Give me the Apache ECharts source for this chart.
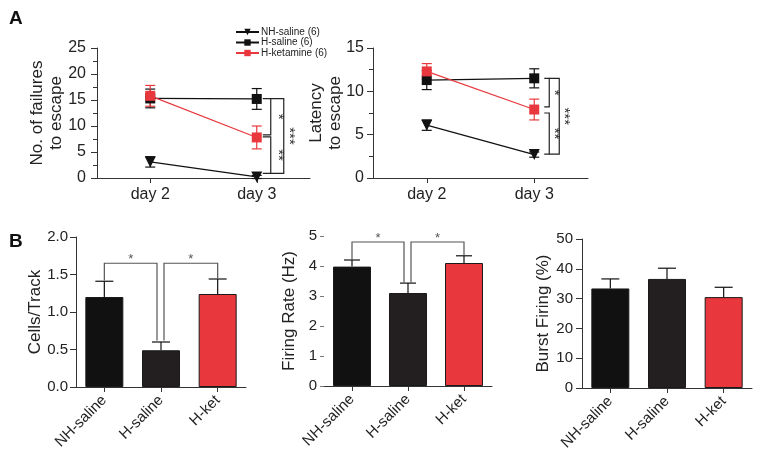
<!DOCTYPE html>
<html><head><meta charset="utf-8">
<script src="https://cdn.jsdelivr.net/npm/echarts@6/dist/echarts.min.js"></script>
<style>html,body{margin:0;padding:0;background:#fff}#c{width:767px;height:453px}</style>
</head><body><div id="c"></div>
<script>
// ---- data ----
const days = ['day 2', 'day 3'];
const seriesNames = ['NH-saline (6)', 'H-saline (6)', 'H-ketamine (6)'];
const failNH = [3.1, 0.2], failNHErr = [1.0, 0.3];
const failHS = [15.3, 15.2], failHSErr = [1.8, 2.0];
const failHK = [15.8, 7.8], failHKErr = [2.0, 2.2];
const latNH = [6.1, 2.7], latNHErr = [0.6, 0.3];
const latHS = [11.3, 11.5], latHSErr = [1.1, 1.1];
const latHK = [12.3, 7.9], latHKErr = [0.9, 1.2];
const failTicks = [0, 25, 5];
const latTicks = [0, 15, 5];
const sigFail = [[15.25, 8.3], [7.9, 0.9], [15.25, 0.9]];
const sigLat = [[11.5, 8.2], [7.5, 2.75], [11.5, 2.75]];
const sigLabels = ['*', '**', '***'];

const groups = ['NH-saline', 'H-saline', 'H-ket'];
const cells = [1.2, 0.49, 1.24], cellsErr = [0.21, 0.11, 0.2];
const firing = [3.98, 3.1, 4.1], firingErr = [0.22, 0.33, 0.24];
const burst = [33.4, 36.6, 30.5], burstErr = [3.2, 3.6, 3.3];
const cellsTicks = [0, 2, 0.5];
const firingTicks = [0, 5, 1];
const burstTicks = [0, 50, 10];
// bracket: [fromGroup, toGroup, fromY, toY, topY, label]
const sigCells = [[0, 1, 1.42, 0.62, 1.65, '*'], [1, 2, 0.62, 1.45, 1.65, '*']];
const sigFiring = [[0, 1, 4.22, 3.45, 4.8, '*'], [1, 2, 3.45, 4.36, 4.8, '*']];

// ---- styles ----
const FONT = '"Liberation Sans", Arial, Helvetica, sans-serif';
const BLACK = '#111111', DARK = '#231f20', RED = '#e8383d', AX = '#333';

function yAx(grid, t, name, gap, fs, margin, opts) {
  return Object.assign({
    type: 'value', gridIndex: grid, min: t[0], max: t[1], interval: t[2],
    name: name, nameLocation: 'middle', nameGap: gap, nameRotate: 90, nameMoveOverlap: false,
    nameTextStyle: {fontSize: 17, color: '#222', fontFamily: FONT, lineHeight: 19},
    axisLine: {show: true, lineStyle: {color: AX, width: 1}},
    axisTick: {show: true, length: 6, lineStyle: {color: AX}},
    axisLabel: {fontSize: fs, color: '#222', fontFamily: FONT, margin: margin,
      formatter: v => (t[2] < 1 ? v.toFixed(1) : String(v))},
    splitLine: {show: false}
  }, opts || {});
}
function xAx(grid, data, rot) {
  return {
    type: 'category', gridIndex: grid, data: data,
    axisLine: {show: true, lineStyle: {color: AX, width: 1}},
    axisTick: {show: true, alignWithLabel: true, length: 5, lineStyle: {color: AX}},
    axisLabel: {fontSize: rot ? 15 : 16, color: '#222', fontFamily: FONT, rotate: rot || 0, margin: rot ? 11 : 9, interval: 0},
    splitLine: {show: false}
  };
}

function errLine(xi, yi, vals, errs, color, cap, z, both) {
  return {
    type: 'custom', xAxisIndex: xi, yAxisIndex: yi, z: z, silent: true,
    data: vals.map((v, i) => [i, v, errs[i]]),
    renderItem: function (params, api) {
      const x = api.value(0), y = api.value(1), e = api.value(2);
      const top = api.coord([x, y + e]);
      const bot = both ? api.coord([x, y - e]) : api.coord([x, y]);
      const st = {stroke: color, lineWidth: 1.2};
      const ch = [
        {type: 'line', shape: {x1: top[0], y1: top[1], x2: bot[0], y2: bot[1]}, style: st},
        {type: 'line', shape: {x1: top[0] - cap, y1: top[1], x2: top[0] + cap, y2: top[1]}, style: st}
      ];
      if (both) ch.push({type: 'line', shape: {x1: bot[0] - cap, y1: bot[1], x2: bot[0] + cap, y2: bot[1]}, style: st});
      return {type: 'group', children: ch};
    }
  };
}

function lineSeries(name, xi, yi, vals, color, sym) {
  return {
    type: 'line', name: name, xAxisIndex: xi, yAxisIndex: yi, data: vals, z: 5,
    symbol: sym, symbolSize: sym === 'triangle' ? 11 : 10, symbolRotate: sym === 'triangle' ? 180 : 0,
    lineStyle: {color: color, width: 1.2}, itemStyle: {color: color}
  };
}

function lineBrackets(xi, yi, pairs, off) {
  return {
    type: 'custom', xAxisIndex: xi, yAxisIndex: yi, silent: true, z: 3,
    data: pairs.map((p, i) => [1, p[0], p[1], i]),
    renderItem: function (params, api) {
      const i = api.value(3);
      const a = api.coord([1, api.value(1)]), b = api.coord([1, api.value(2)]);
      const x0 = a[0];
      const st = {stroke: '#222', lineWidth: 1.2, fill: null};
      let l, r, lx;
      if (i < 2) { l = x0 + off[0]; r = x0 + off[1]; lx = x0 + off[3]; }
      else { l = x0 + off[1]; r = x0 + off[2]; lx = x0 + off[4]; }
      return {type: 'group', children: [
        {type: 'polyline', shape: {points: [[l, a[1]], [r, a[1]], [r, b[1]], [l, b[1]]]}, style: st},
        {type: 'text', x: lx, y: (a[1] + b[1]) / 2, rotation: -Math.PI / 2,
          style: {text: sigLabels[i], fontSize: 15, fill: '#333', align: 'center', verticalAlign: 'middle', fontFamily: FONT}}
      ]};
    }
  };
}

function barSeries(xi, yi, vals) {
  return {
    type: 'bar', xAxisIndex: xi, yAxisIndex: yi, barWidth: 38, z: 2,
    data: vals.map((v, i) => ({value: v, itemStyle: {color: [BLACK, DARK, RED][i], borderColor: '#1a1a1a', borderWidth: 1}}))
  };
}

function barBrackets(xi, yi, list) {
  return {
    type: 'custom', xAxisIndex: xi, yAxisIndex: yi, silent: true, z: 3,
    data: list.map(b => [b[0], b[1], b[2], b[3], b[4]]),
    renderItem: function (params, api) {
      const idx = params.dataIndex;
      const g0 = api.value(0), g1 = api.value(1);
      const p0 = api.coord([g0, api.value(2)]), p1 = api.coord([g1, api.value(3)]);
      const top = api.coord([g0, api.value(4)])[1];
      const x0 = p0[0] + (g0 === 1 ? 3 : 0), x1 = p1[0] + (g1 === 1 ? -4 : 0);
      const st = {stroke: '#555', lineWidth: 1.2, fill: null};
      return {type: 'group', children: [
        {type: 'polyline', shape: {points: [[x0, p0[1]], [x0, top], [x1, top], [x1, p1[1]]]}, style: st},
        {type: 'text', x: (x0 + x1) / 2, y: top + 3,
          style: {text: list[idx][5], fontSize: 13, fill: '#555', align: 'center', verticalAlign: 'bottom', fontFamily: FONT}}
      ]};
    }
  };
}

const minor = {minorTick: {show: true, splitNumber: 2, length: 4, lineStyle: {color: AX}}};

const chart = echarts.init(document.getElementById('c'), null, {renderer: 'canvas'});
chart.setOption({
  animation: false,
  backgroundColor: '#fff',
  textStyle: {fontFamily: FONT},
  legend: {
    left: 235, top: 27, padding: 0, orient: 'vertical', itemWidth: 23, itemHeight: 8, itemGap: 0.5,
    data: seriesNames, textStyle: {fontSize: 10, lineHeight: 10, color: '#222', fontFamily: FONT, padding: [0, 0, 0, -3]},
    selectedMode: false
  },
  graphic: [
    {type: 'text', left: 9, top: 9, style: {text: 'A', fontSize: 19, fontWeight: 'bold', fill: '#111', fontFamily: FONT}},
    {type: 'text', left: 9, top: 232, style: {text: 'B', fontSize: 19, fontWeight: 'bold', fill: '#111', fontFamily: FONT}}
  ],
  grid: [
    {left: 97, top: 48, width: 213, height: 130},
    {left: 373, top: 48, width: 215, height: 130},
    {left: 76, top: 237, width: 170, height: 150},
    {left: 324, top: 236, width: 168, height: 150},
    {left: 582, top: 239, width: 170, height: 149}
  ],
  xAxis: [
    xAx(0, days), xAx(1, days), xAx(2, groups, 45), xAx(3, groups, 45), xAx(4, groups, 45)
  ],
  yAxis: [
    yAx(0, failTicks, 'No. of failures\nto escape', 31, 16, 11, minor),
    yAx(1, latTicks, 'Latency\nto escape', 28, 16, 9, minor),
    yAx(2, cellsTicks, 'Cells/Track', 31, 15, 8),
    yAx(3, firingTicks, 'Firing Rate (Hz)', 25, 15, 7, {axisLine: {show: false}, axisTick: {show: true, length: 4, lineStyle: {color: '#777'}}}),
    yAx(4, burstTicks, 'Burst Firing (%)', 29, 15, 9)
  ],
  series: [
    errLine(0, 0, failNH, failNHErr, BLACK, 5, 4, true),
    errLine(0, 0, failHS, failHSErr, BLACK, 5, 4, true),
    errLine(0, 0, failHK, failHKErr, RED, 5, 4, true),
    lineSeries(seriesNames[0], 0, 0, failNH, BLACK, 'triangle'),
    lineSeries(seriesNames[1], 0, 0, failHS, BLACK, 'rect'),
    lineSeries(seriesNames[2], 0, 0, failHK, RED, 'rect'),
    lineBrackets(0, 0, sigFail, [6, 14, 27, 21, 32]),
    errLine(1, 1, latNH, latNHErr, BLACK, 5, 4, true),
    errLine(1, 1, latHS, latHSErr, BLACK, 5, 4, true),
    errLine(1, 1, latHK, latHKErr, RED, 5, 4, true),
    lineSeries(seriesNames[0], 1, 1, latNH, BLACK, 'triangle'),
    lineSeries(seriesNames[1], 1, 1, latHS, BLACK, 'rect'),
    lineSeries(seriesNames[2], 1, 1, latHK, RED, 'rect'),
    lineBrackets(1, 1, sigLat, [10, 15, 25, 20, 30]),
    barSeries(2, 2, cells), errLine(2, 2, cells, cellsErr, BLACK, 9, 3, false), barBrackets(2, 2, sigCells),
    barSeries(3, 3, firing), errLine(3, 3, firing, firingErr, BLACK, 8, 3, false), barBrackets(3, 3, sigFiring),
    barSeries(4, 4, burst), errLine(4, 4, burst, burstErr, BLACK, 9, 3, false)
  ]
});
</script></body></html>
